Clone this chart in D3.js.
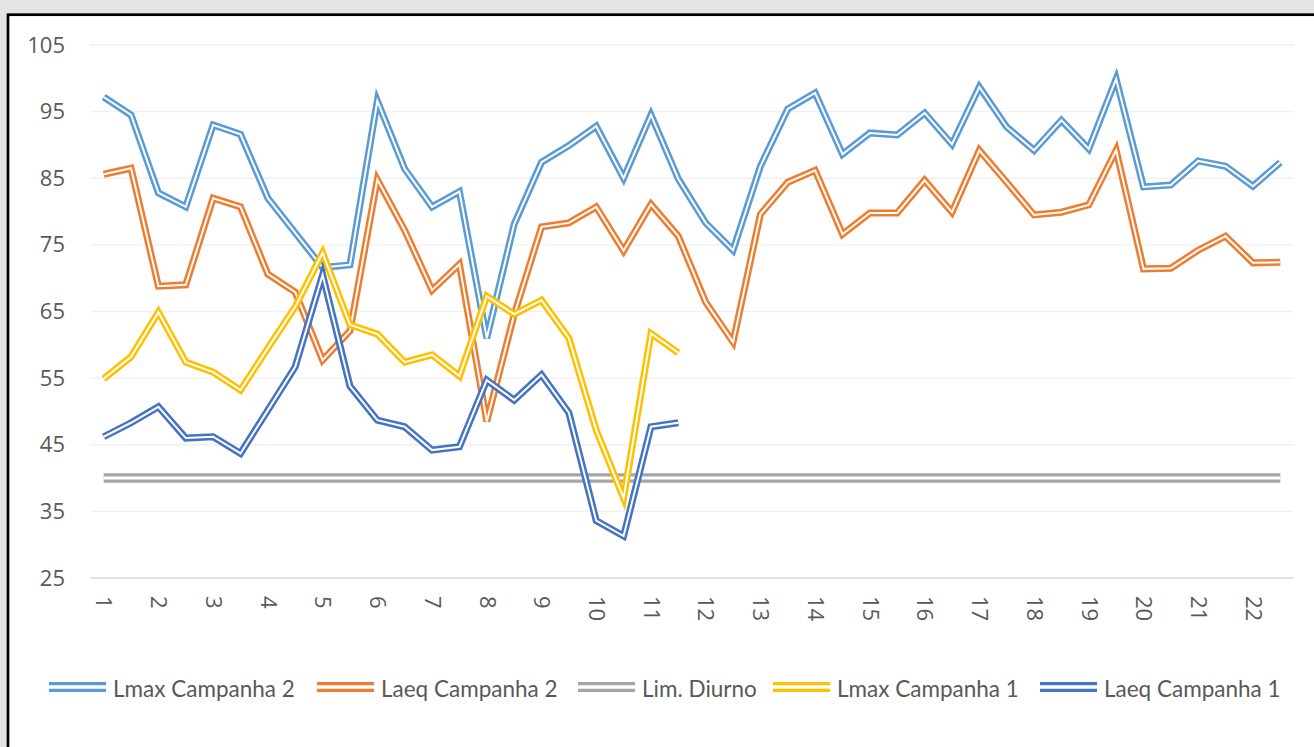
<!DOCTYPE html>
<html lang="pt">
<head>
<meta charset="UTF-8">
<title>Campanhas</title>
<script src="https://d3js.org/d3.v7.min.js"></script>
<style>
  body { margin: 0; background: #e4e4e4; }
  svg { display: block; }
</style>
</head>
<body>
<svg width="1314" height="747"></svg>
<script>
// two readings per point, labels 1..22
const categories = ["1a","1b","2a","2b","3a","3b","4a","4b","5a","5b","6a","6b","7a","7b","8a","8b",
  "9a","9b","10a","10b","11a","11b","12a","12b","13a","13b","14a","14b","15a","15b","16a","16b",
  "17a","17b","18a","18b","19a","19b","20a","20b","21a","21b","22a","22b"];
const tickLabels = ["1","2","3","4","5","6","7","8","9","10","11","12","13","14","15","16","17","18","19","20","21","22"];
const yTicks = [25, 35, 45, 55, 65, 75, 85, 95, 105];

const lmaxC2 = [97.2, 94.5, 82.8, 80.7, 93.0, 91.6, 82.0, 76.8, 71.6, 72.0, 96.6, 86.4, 80.7, 83.0, 61.0, 78.1,
  87.4, 89.9, 92.8, 85.0, 94.5, 84.9, 78.3, 74.2, 86.8, 95.4, 97.8, 88.6, 91.8, 91.5, 94.8, 90.1,
  98.7, 92.7, 89.2, 93.7, 89.4, 99.9, 83.7, 84.0, 87.6, 86.8, 83.8, 87.4];
const laeqC2 = [85.6, 86.5, 68.8, 69.0, 82.0, 80.7, 70.6, 67.9, 57.7, 62.1, 84.8, 77.2, 68.2, 72.1, 48.5, 64.5,
  77.7, 78.3, 80.7, 74.1, 81.1, 76.3, 66.4, 60.4, 79.6, 84.4, 86.2, 76.6, 79.8, 79.8, 84.7, 79.9,
  89.2, 84.4, 79.5, 79.9, 81.0, 89.2, 71.4, 71.5, 74.2, 76.3, 72.3, 72.4];
const limDiurno = [40, 40, 40, 40, 40, 40, 40, 40, 40, 40, 40, 40, 40, 40, 40, 40, 40, 40, 40, 40, 40, 40,
  40, 40, 40, 40, 40, 40, 40, 40, 40, 40, 40, 40, 40, 40, 40, 40, 40, 40, 40, 40, 40, 40];
const lmaxC1 = [54.9, 58.2, 64.9, 57.4, 55.9, 53.2, 59.5, 65.7, 73.8, 63.0, 61.6, 57.4, 58.5, 55.3, 67.3, 64.6,
  66.7, 61.0, 47.2, 37.0, 61.7, 58.8];
const laeqC1 = [46.2, 48.3, 50.7, 46.0, 46.2, 43.7, 50.2, 56.7, 70.5, 53.8, 48.7, 47.7, 44.2, 44.7, 54.7, 51.7,
  55.5, 49.8, 33.6, 31.3, 47.7, 48.3];

const seriesNames = ["Lmax Campanha 2", "Laeq Campanha 2", "Lim. Diurno", "Lmax Campanha 1", "Laeq Campanha 1"];
const seriesValues = [lmaxC2, laeqC2, limDiurno, lmaxC1, laeqC1];
const colors = ["#5b9bd5", "#ed7d31", "#a5a5a5", "#ffc000", "#4472c4"];

const svg = d3.select("svg");
const plot = {left: 90, right: 1294, top: 45, bottom: 578};

// chart frame
svg.append("rect")
  .attr("x", 8).attr("y", 14.7)
  .attr("width", 1340).attr("height", 760)
  .attr("fill", "#fff")
  .attr("stroke", "#000")
  .attr("stroke-width", 2.7);

const x = d3.scalePoint(categories, [plot.left, plot.right]).padding(0.5);
const y = d3.scaleLinear([25, 105], [plot.bottom, plot.top]);

// gridlines
svg.append("g")
  .selectAll("line")
  .data(yTicks)
  .join("line")
  .attr("x1", plot.left).attr("x2", plot.right)
  .attr("y1", d => y(d)).attr("y2", d => y(d))
  .attr("stroke", d => d === 25 ? "#d9d9d9" : "#f0f0f0")
  .attr("stroke-width", 1.3);

// y axis labels
const yAxis = svg.append("g")
  .attr("transform", `translate(${plot.left - 25},0)`)
  .call(d3.axisLeft(y).tickValues(yTicks).tickSize(0).tickPadding(0));
yAxis.select(".domain").remove();
yAxis.selectAll("text")
  .attr("font-family", "'Open Sans', sans-serif")
  .attr("font-size", 22)
  .attr("fill", "#595959");

// x axis labels, rotated
const xAxis = svg.append("g")
  .attr("transform", `translate(0,${plot.bottom})`)
  .call(d3.axisBottom(x)
    .tickValues(categories.filter((d, i) => i % 2 === 0))
    .tickFormat((d, i) => tickLabels[i])
    .tickSize(0));
xAxis.select(".domain").remove();
xAxis.selectAll("text")
  .attr("font-family", "'Open Sans', sans-serif")
  .attr("font-size", 22)
  .attr("fill", "#595959")
  .attr("text-anchor", "start")
  .attr("dy", "0.35em")
  .attr("x", 0)
  .attr("y", 0)
  .attr("transform", "translate(0,18) rotate(90)");

// double lines
const line = d3.line()
  .x((d, i) => x(categories[i]))
  .y(d => y(d));

seriesValues.forEach((vals, k) => {
  const outer = k === 2 ? 9.5 : 7;
  const inner = k === 2 ? 3 : 2;
  const g = svg.append("g");
  g.append("path")
    .attr("d", line(vals))
    .attr("fill", "none")
    .attr("stroke", colors[k])
    .attr("stroke-width", outer);
  g.append("path")
    .attr("d", line(vals))
    .attr("fill", "none")
    .attr("stroke", "#fff")
    .attr("stroke-width", inner);
});

// legend
const legendX = [49, 317, 578, 773, 1040];
const legendY = 687;
const legend = svg.append("g");
seriesNames.forEach((name, k) => {
  const item = legend.append("g").attr("transform", `translate(${legendX[k]},${legendY})`);
  item.append("line")
    .attr("x1", 0).attr("x2", 57)
    .attr("stroke", colors[k]).attr("stroke-width", 10);
  item.append("line")
    .attr("x1", 0).attr("x2", 57)
    .attr("stroke", "#fff").attr("stroke-width", 3.3);
  item.append("text")
    .attr("x", 64)
    .attr("y", 2.5)
    .attr("dy", "0.35em")
    .attr("font-family", "Lato, sans-serif")
    .attr("font-size", 22.5)
    .attr("fill", "#595959")
    .text(name);
});
</script>
</body>
</html>
